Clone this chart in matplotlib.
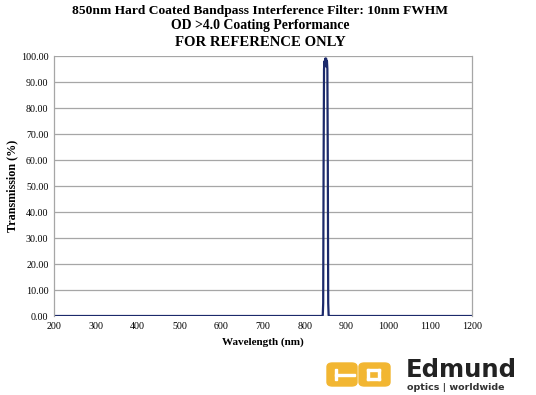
import matplotlib.pyplot as plt
from matplotlib.patches import FancyBboxPatch, Rectangle

# transmission curve
wavelength = [200, 400, 600, 800, 840, 843, 844, 845, 846, 847, 848, 849, 850, 851, 852, 853,
              854, 855, 856, 857, 860, 900, 1000, 1200]
transmission = [0, 0, 0, 0, 0, 0.3, 5, 60, 95, 98, 96, 99, 97, 99, 96, 98,
                95, 60, 5, 0.3, 0, 0, 0, 0]

x_ticks = [200, 300, 400, 500, 600, 700, 800, 900, 1000, 1100, 1200]
y_ticks = [0, 10, 20, 30, 40, 50, 60, 70, 80, 90, 100]

title_lines = ['850nm Hard Coated Bandpass Interference Filter: 10nm FWHM',
               'OD >4.0 Coating Performance',
               'FOR REFERENCE ONLY']

serif = 'Liberation Serif'
W, H = 536, 395

fig = plt.figure(figsize=(5.36, 3.95), dpi=100)
ax = fig.add_axes([54 / W, 1 - 316 / H, 418 / W, 260 / H])

ax.plot(wavelength, transmission, color='#1c2a6b', lw=1.6)

ax.set_xlim(200, 1200)
ax.set_ylim(0, 100)
ax.set_xticks(x_ticks)
ax.set_yticks(y_ticks)
ax.set_yticklabels(['%.2f' % v for v in y_ticks])
ax.tick_params(length=0, labelsize=7.2, pad=4)
for lbl in ax.get_xticklabels() + ax.get_yticklabels():
    lbl.set_fontfamily(serif)
ax.grid(axis='y', color='#a6a6a6', lw=0.9)
ax.set_axisbelow(True)
for side in ['top', 'bottom']:
    ax.spines[side].set_visible(False)
for side in ['left', 'right']:
    ax.spines[side].set_color('#a6a6a6')
    ax.spines[side].set_linewidth(0.9)

ax.set_xlabel('Wavelength (nm)', fontfamily=serif, fontweight='bold', fontsize=8, labelpad=5)
ax.set_ylabel('Transmission (%)', fontfamily=serif, fontweight='bold', fontsize=8.7, labelpad=2)

# title, one line at a time
for txt, yc, fs in zip(title_lines, [11, 26, 42], [9.7, 9.9, 10.6]):
    fig.text(0.485, 1 - yc / H, txt, ha='center', va='center',
             fontfamily=serif, fontweight='bold', fontsize=fs)

# Edmund Optics logo, rough rendering
yellow = '#f2b632'
for x0, x1 in [(327, 357), (359, 390)]:
    box = FancyBboxPatch((x0 / W, 1 - 386 / H), (x1 - x0) / W, 23 / H,
                         boxstyle='round,pad=0,rounding_size=0.01',
                         transform=fig.transFigure, color=yellow, zorder=5)
    fig.patches.append(box)
# white strokes inside the blocks
for x0, y0, w, h in [(335, 369, 2, 11), (335, 373.5, 20, 2), (367, 369, 2, 11),
                     (378, 369, 2, 11), (367, 369, 13, 2), (367, 378, 13, 2)]:
    fig.patches.append(Rectangle((x0 / W, 1 - (y0 + h) / H), w / W, h / H,
                                 transform=fig.transFigure, color='white', zorder=6))
fig.text(406 / W, 1 - 377 / H, 'Edmund', fontfamily='DejaVu Sans', fontweight='bold',
         fontsize=17.5, va='baseline', ha='left', color='#222222')
fig.text(407 / W, 1 - 383 / H, 'optics | worldwide', fontfamily='DejaVu Sans',
         fontweight='bold', fontsize=6.8, va='top', ha='left', color='#333333')

fig.savefig('out.png', dpi=100)
